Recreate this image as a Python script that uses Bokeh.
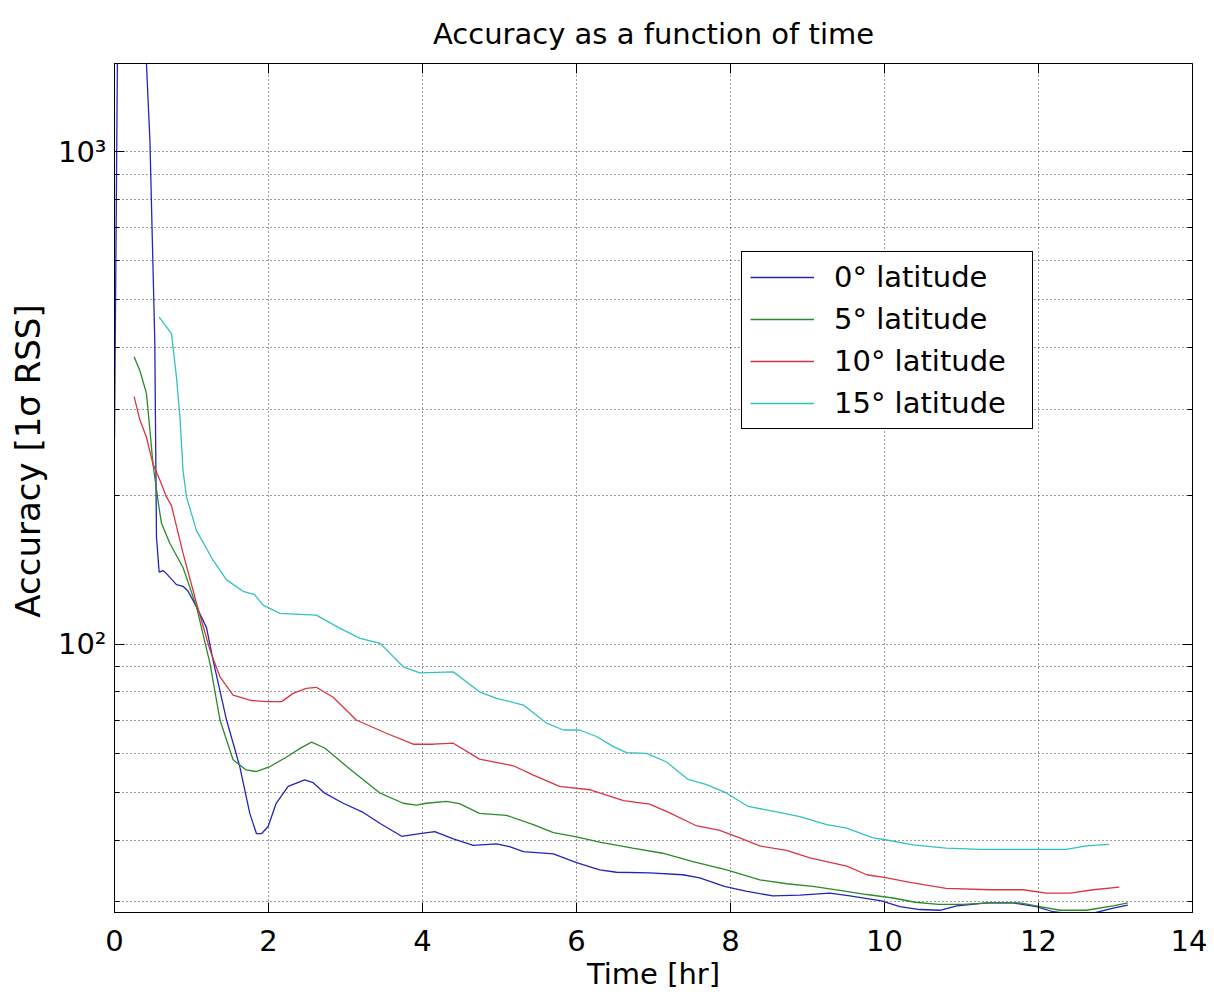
from bokeh.plotting import figure
from bokeh.models import FixedTicker, Legend, LegendItem, LinearAxis, LogAxis
from bokeh.embed import file_html
from bokeh.resources import INLINE

# ---------------- data ----------------
time_0 = [0.0, 0.04, 0.40, 0.415, 0.46, 0.523, 0.545, 0.58, 0.63, 0.675, 0.805, 0.89, 0.956,
          1.065, 1.195, 1.28, 1.455, 1.627, 1.757, 1.844, 1.909, 1.995, 2.10, 2.255, 2.47, 2.58,
          2.73, 2.97, 3.23, 3.45, 3.73, 3.965, 4.16, 4.40, 4.66, 4.96, 5.13, 5.31, 5.70, 6.0,
          6.30, 6.52, 6.95, 7.38, 7.60, 7.92, 8.2, 8.55, 8.9, 9.29, 9.55, 9.96, 10.2, 10.46,
          10.72, 10.94, 11.33, 11.67, 11.97, 12.19, 12.45, 12.71, 12.97, 13.16]
acc_0 = [262, 1700, 1700, 1510, 1055, 414, 165, 140, 141, 139, 132, 131, 128,
         119, 108, 92.8, 70.1, 56.4, 45.3, 41.2, 41.2, 42.6, 47.5, 51.4, 53.0, 52.3,
         49.8, 47.5, 45.5, 43.2, 40.7, 41.2, 41.6, 40.2, 39.0, 39.3, 38.8, 37.9, 37.5, 36.0,
         34.8, 34.4, 34.3, 34.0, 33.5, 32.2, 31.5, 30.8, 30.9, 31.2, 30.8, 30.1, 29.3, 28.9,
         28.8, 29.4, 29.8, 29.8, 29.3, 28.6, 28.3, 28.4, 29.1, 29.5]

time_5 = [0.255, 0.33, 0.415, 0.46, 0.50, 0.57, 0.61, 0.72, 0.89, 1.065, 1.24, 1.37, 1.54,
          1.71, 1.84, 2.02, 2.23, 2.41, 2.56, 2.73, 3.06, 3.45, 3.75, 3.92, 4.05, 4.31, 4.48,
          4.74, 5.09, 5.44, 5.70, 6.0, 6.3, 6.73, 7.12, 7.5, 7.95, 8.38, 8.73, 9.07, 9.42,
          9.77, 10.11, 10.4, 10.7, 11.02, 11.37, 11.76, 12.02, 12.28, 12.62, 12.97, 13.16]
acc_5 = [383, 359, 323, 272, 232, 193, 176, 160, 143, 119, 91.4, 70.1, 58.2,
         55.5, 55.1, 56.4, 58.9, 61.4, 63.2, 61.5, 55.7, 49.8, 47.5, 47.1, 47.5, 47.9, 47.4,
         45.3, 44.9, 43.0, 41.4, 40.6, 39.6, 38.5, 37.6, 36.2, 34.8, 33.2, 32.6, 32.2, 31.6,
         31.0, 30.5, 29.9, 29.6, 29.6, 29.8, 29.8, 29.3, 28.8, 28.8, 29.4, 29.8]

time_10 = [0.255, 0.33, 0.415, 0.50, 0.59, 0.675, 0.74, 0.89, 1.065, 1.24, 1.37, 1.54, 1.78,
           1.97, 2.17, 2.32, 2.49, 2.62, 2.84, 3.14, 3.53, 3.88, 4.14, 4.40, 4.74, 5.18, 5.44,
           5.78, 6.17, 6.61, 6.95, 7.21, 7.55, 7.85, 8.12, 8.38, 8.73, 9.03, 9.51, 9.77, 10.03,
           10.33, 10.8, 11.37, 11.8, 12.1, 12.41, 12.71, 13.05]
acc_10 = [318, 285, 263, 232, 215, 199, 191, 153, 121, 97.2, 85.8, 78.8, 76.8,
          76.4, 76.4, 79.4, 81.3, 81.7, 78.0, 70.1, 65.9, 62.6, 62.6, 62.9, 58.4, 56.6, 54.2,
          51.4, 50.6, 48.1, 47.3, 45.4, 42.8, 41.9, 40.4, 38.9, 38.1, 36.8, 35.4, 34.0, 33.5,
          32.8, 31.9, 31.7, 31.7, 31.2, 31.2, 31.7, 32.1]

time_15 = [0.58, 0.74, 0.805, 0.85, 0.89, 0.935, 1.065, 1.28, 1.455, 1.67, 1.82, 1.93, 2.15,
           2.62, 2.93, 3.19, 3.45, 3.75, 3.965, 4.40, 4.74, 4.96, 5.31, 5.61, 5.83, 6.04, 6.26,
           6.48, 6.65, 6.91, 7.17, 7.45, 7.69, 7.93, 8.23, 8.6, 8.9, 9.25, 9.51, 9.85, 10.03,
           10.37, 10.8, 11.24, 11.97, 12.36, 12.62, 12.92]
acc_15 = [461, 427, 348, 289, 225, 199, 170, 148, 135, 128, 126, 120, 115.4,
          114.5, 107.6, 102.7, 100.3, 89.9, 87.4, 87.8, 80.0, 77.6, 75.2, 69.1, 66.9, 66.9, 64.9,
          61.9, 60.2, 60.0, 57.6, 53.1, 51.8, 50.0, 46.8, 45.6, 44.6, 43.0, 42.3, 40.4, 40.0,
          39.1, 38.5, 38.3, 38.3, 38.3, 38.9, 39.2]

series_names = ["0\u00b0 latitude", "5\u00b0 latitude", "10\u00b0 latitude", "15\u00b0 latitude"]
series_colors = ["#2424b8", "#2a8a2a", "#d8363f", "#34c0c0"]

x_ticks = [0, 2, 4, 6, 8, 10, 12, 14]
y_major = [100, 1000]
y_minor = [30, 40, 50, 60, 70, 80, 90, 200, 300, 400, 500, 600, 700, 800, 900]
y_labels = {100: "10\u00b2", 1000: "10\u00b3"}

title_text = "Accuracy as a function of time"
x_label = "Time [hr]"
y_label = "Accuracy [1\u03c3 RSS]"

FONT = "DejaVu Sans"

p = figure(width=1207, height=993, y_axis_type="log",
           x_range=(0, 14), y_range=(28.5, 1510),
           output_backend="svg", toolbar_location=None,
           title=title_text,
           min_border_left=114, min_border_right=15, min_border_top=63, min_border_bottom=80)

p.background_fill_color = "white"
p.border_fill_color = "white"
p.outline_line_color = "black"
p.outline_line_width = 1
p.outline_line_alpha = 1

p.title.align = "center"
p.title.text_font = FONT
p.title.text_font_size = "29px"
p.title.text_font_style = "normal"
p.title.text_color = "black"
p.title.standoff = 26

# x axis
xa = p.xaxis[0]
xa.ticker = FixedTicker(ticks=x_ticks)
xa.axis_label = x_label
xa.axis_label_text_font = FONT
xa.axis_label_text_font_size = "29px"
xa.axis_label_text_font_style = "normal"
xa.axis_label_text_color = "black"
xa.axis_label_text_line_height = 1.0
xa.axis_label_standoff = 3
xa.major_label_text_font = FONT
xa.major_label_text_font_size = "29px"
xa.major_label_text_color = "black"
xa.major_label_text_line_height = 0.9
xa.major_label_standoff = 17
xa.major_tick_in = 10
xa.major_tick_out = 0
xa.major_tick_line_color = "black"
xa.minor_tick_line_color = None
xa.axis_line_color = "black"

# y axis
ya = p.yaxis[0]
ya.ticker = FixedTicker(ticks=y_major, minor_ticks=y_minor)
ya.major_label_overrides = y_labels
ya.axis_label = "\u00a0\u00a0\u00a0\u00a0\u00a0" + y_label
ya.axis_label_text_font = FONT
ya.axis_label_text_font_size = "34px"
ya.axis_label_text_font_style = "normal"
ya.axis_label_text_color = "black"
ya.axis_label_standoff = 7
ya.major_label_text_font = FONT
ya.major_label_text_font_size = "29px"
ya.major_label_text_color = "black"
ya.major_label_standoff = 8
ya.major_tick_in = 10
ya.major_tick_out = 0
ya.minor_tick_in = 5
ya.minor_tick_out = 0
ya.major_tick_line_color = "black"
ya.minor_tick_line_color = "black"
ya.axis_line_color = "black"

# mirrored inward ticks on the top and right edges (box on), no labels
top_axis = LinearAxis(ticker=FixedTicker(ticks=x_ticks),
                      major_label_overrides={t: "" for t in x_ticks},
                      major_label_text_font_size="10px", major_label_standoff=0,
                      major_tick_in=10, major_tick_out=0, major_tick_line_color="black",
                      minor_tick_line_color=None, axis_line_color=None)
p.add_layout(top_axis, "above")
right_axis = LogAxis(ticker=FixedTicker(ticks=y_major, minor_ticks=y_minor),
                     major_label_overrides={t: "" for t in y_major},
                     major_label_text_font_size="10px", major_label_standoff=0,
                     major_tick_in=10, major_tick_out=0, minor_tick_in=5, minor_tick_out=0,
                     major_tick_line_color="black", minor_tick_line_color="black",
                     axis_line_color=None)
p.add_layout(right_axis, "right")

# dotted grid
for g in (p.xgrid[0], p.ygrid[0]):
    g.grid_line_color = "#222222"
    g.grid_line_dash = "1 3"
    g.grid_line_width = 1
    g.grid_line_alpha = 0.9
p.ygrid[0].minor_grid_line_color = "#222222"
p.ygrid[0].minor_grid_line_dash = "1 3"
p.ygrid[0].minor_grid_line_alpha = 0.9

xs = [time_0, time_5, time_10, time_15]
ys = [acc_0, acc_5, acc_10, acc_15]
items = []
for x, y, name, col in zip(xs, ys, series_names, series_colors):
    r = p.line(x, y, line_color=col, line_width=1.3)
    items.append(LegendItem(label=name, renderers=[r]))

legend = Legend(items=items, location=(627, 483), margin=0, padding=8, spacing=8,
                glyph_width=64, glyph_height=34, label_height=34, label_standoff=20,
                label_width=190,
                label_text_font=FONT, label_text_font_size="29px", label_text_color="black",
                border_line_color="black", border_line_width=1, border_line_alpha=1,
                background_fill_color="white", background_fill_alpha=1)
p.add_layout(legend, "center")

open("out.html", "w").write(file_html(p, INLINE))
